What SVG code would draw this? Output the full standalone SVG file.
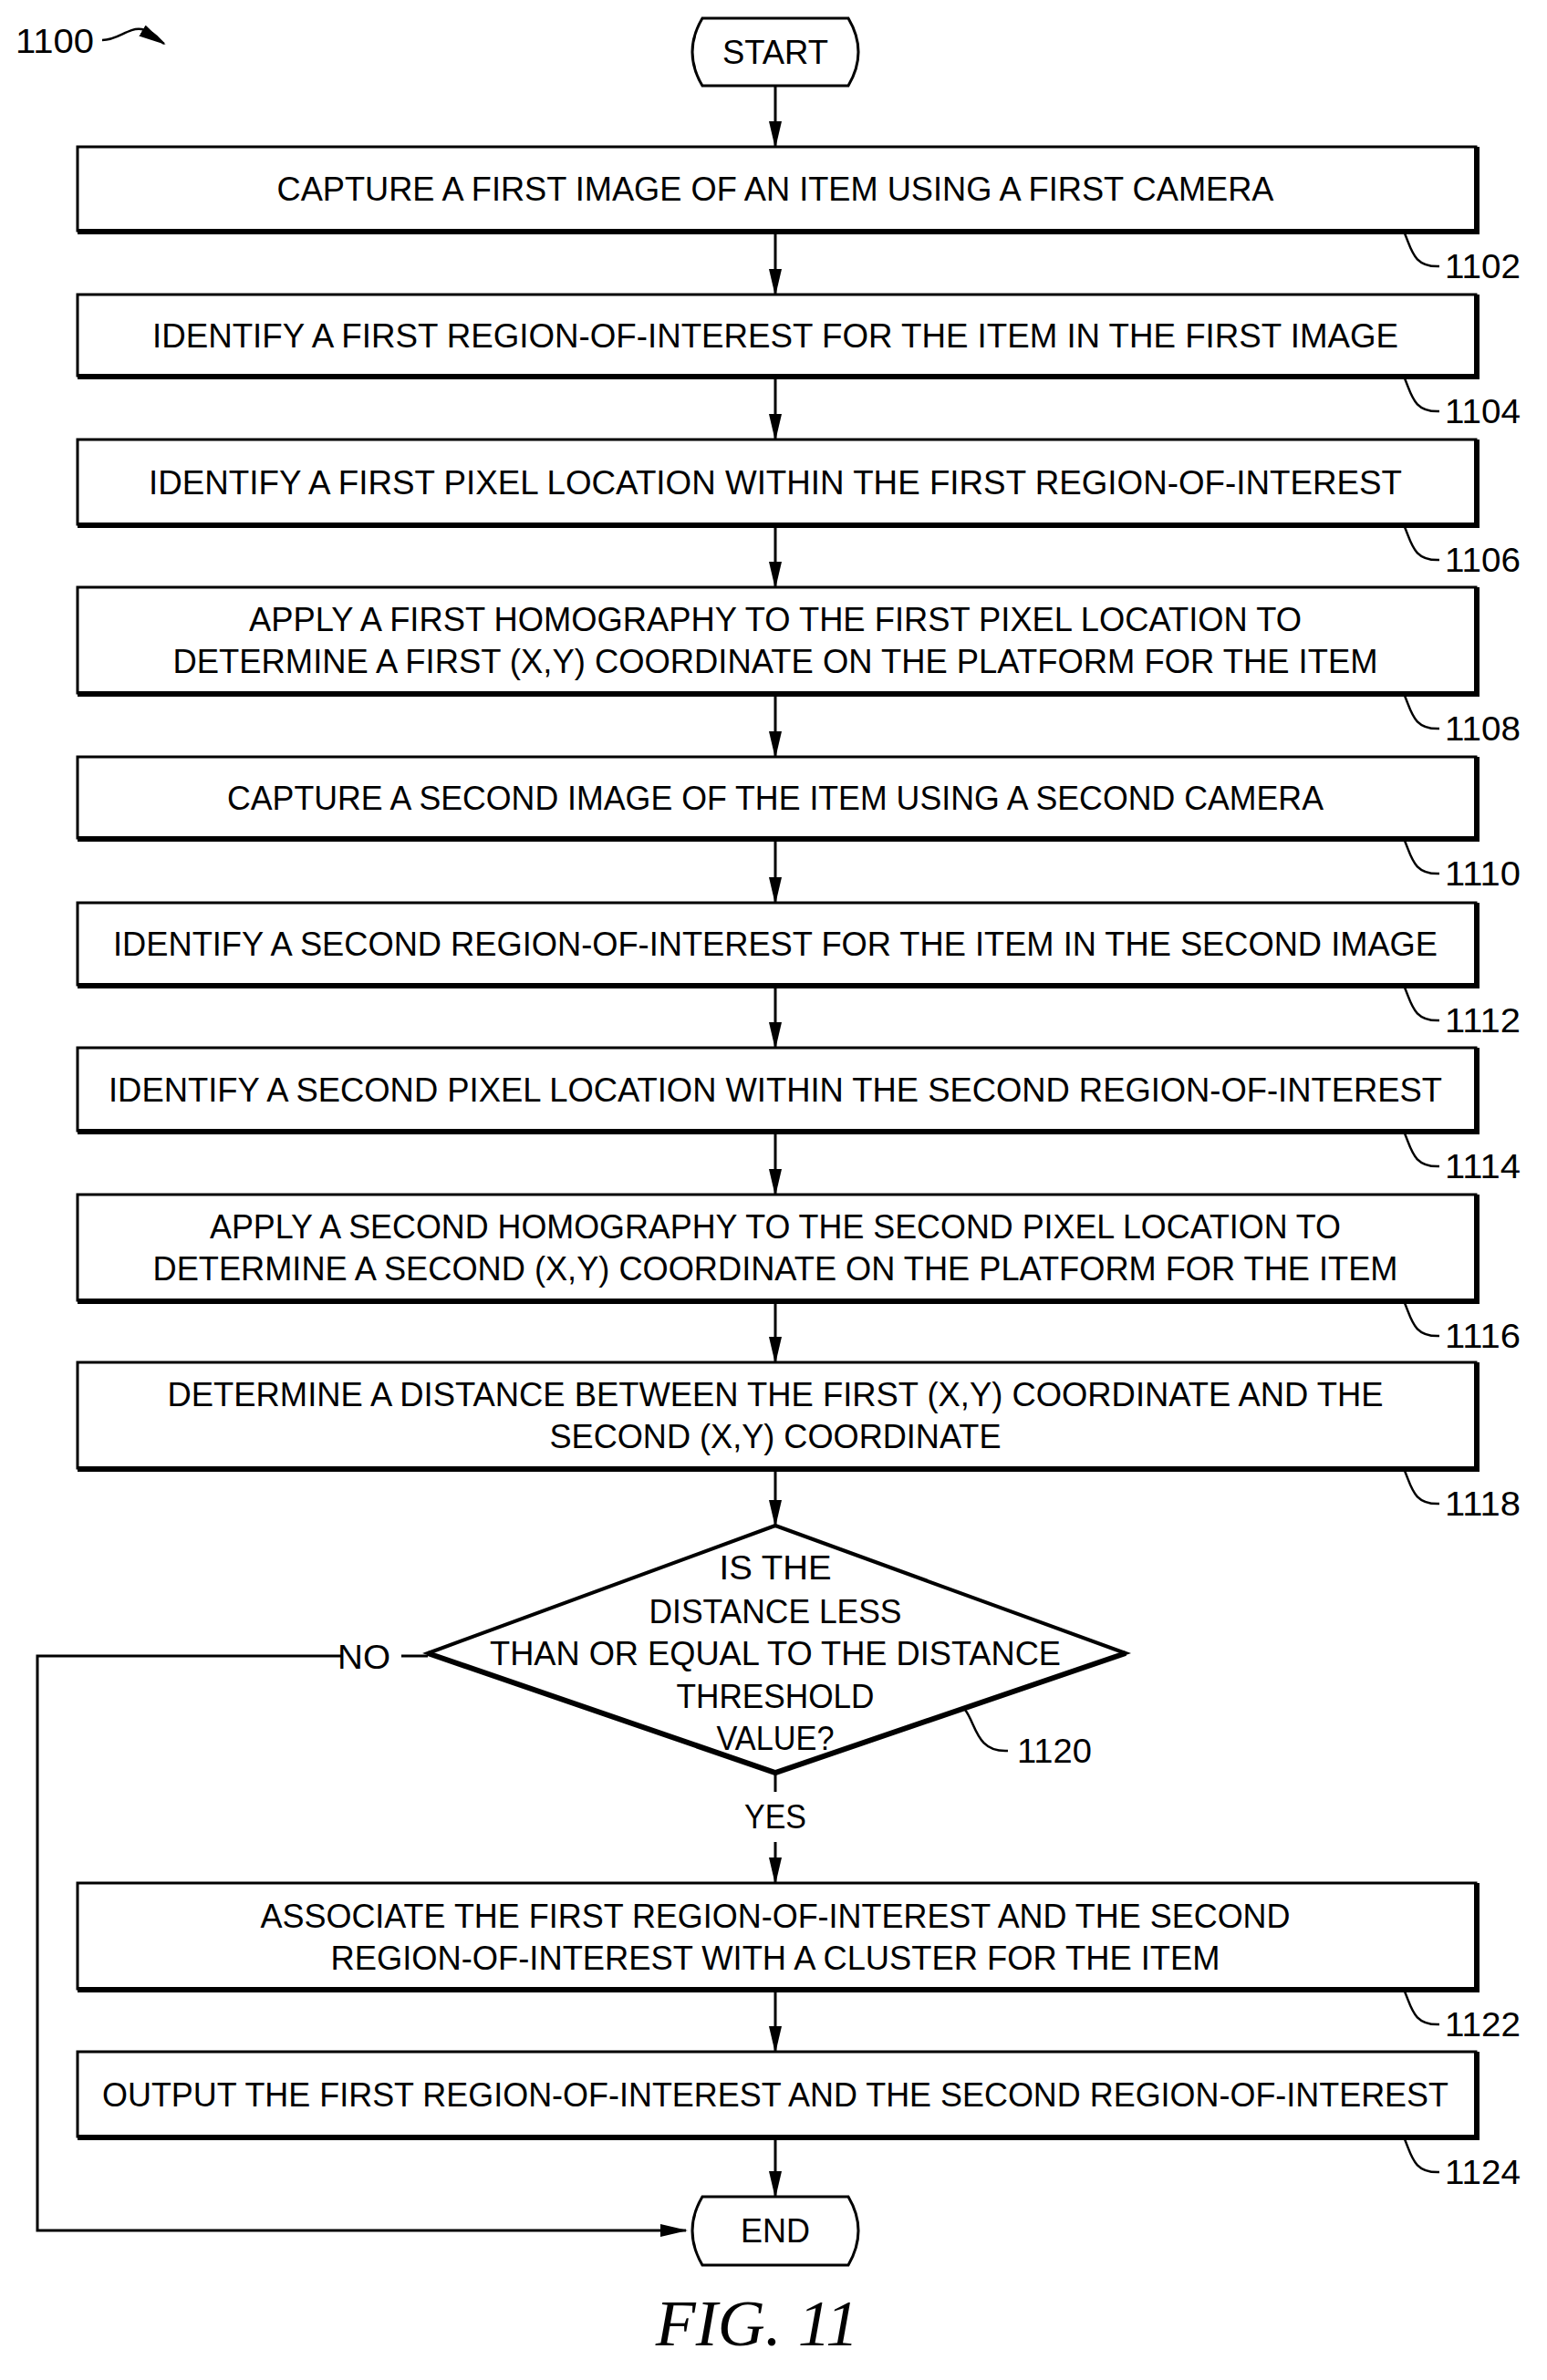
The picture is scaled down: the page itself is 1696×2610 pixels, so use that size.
<svg xmlns="http://www.w3.org/2000/svg" width="1696" height="2610" viewBox="0 0 1696 2610">
<style>
.b{fill:#fff;stroke:#000;stroke-width:3}
.sh{fill:none;stroke:#000;stroke-width:6}
.t{font-family:"Liberation Sans",Arial,sans-serif;font-size:37px;fill:#000;text-anchor:middle}
.r{font-family:"Liberation Sans",Arial,sans-serif;font-size:37px;fill:#000}
.c{fill:none;stroke:#000;stroke-width:3}
.l{fill:none;stroke:#000;stroke-width:2.5}
</style>
<defs>
<marker id="a" markerWidth="14" markerHeight="30" refX="14" refY="7" orient="auto" markerUnits="userSpaceOnUse" viewBox="0 0 14 30">
<path d="M0,0 L14,7 L0,14 Z" transform="translate(0,0)" fill="#000"/>
</marker>
<marker id="v" viewBox="0 0 30 14" refX="28" refY="7" markerWidth="30" markerHeight="14" orient="auto" markerUnits="userSpaceOnUse"><path d="M0,0 L30,7 L0,14 Z" fill="#000"/></marker>
</defs>
<g id="connectors">
<line class="c" x1="850" y1="95" x2="850" y2="161" marker-end="url(#v)"/>
<line class="c" x1="850" y1="256" x2="850" y2="323" marker-end="url(#v)"/>
<line class="c" x1="850" y1="415" x2="850" y2="482" marker-end="url(#v)"/>
<line class="c" x1="850" y1="578" x2="850" y2="644" marker-end="url(#v)"/>
<line class="c" x1="850" y1="763" x2="850" y2="830" marker-end="url(#v)"/>
<line class="c" x1="850" y1="922" x2="850" y2="990" marker-end="url(#v)"/>
<line class="c" x1="850" y1="1083" x2="850" y2="1149" marker-end="url(#v)"/>
<line class="c" x1="850" y1="1243" x2="850" y2="1310" marker-end="url(#v)"/>
<line class="c" x1="850" y1="1429" x2="850" y2="1494" marker-end="url(#v)"/>
<line class="c" x1="850" y1="1613" x2="850" y2="1673" marker-end="url(#v)"/>
<line class="c" x1="850" y1="1946" x2="850" y2="1965"/>
<line class="c" x1="850" y1="2020" x2="850" y2="2065" marker-end="url(#v)"/>
<line class="c" x1="850" y1="2184" x2="850" y2="2250" marker-end="url(#v)"/>
<line class="c" x1="850" y1="2346" x2="850" y2="2409" marker-end="url(#v)"/>
<line class="c" x1="469" y1="1816" x2="440" y2="1816"/>
<polyline class="c" points="374,1816 41,1816 41,2446 752,2446" marker-end="url(#v)"/>
<text class="t" x="399" y="1830" textLength="58" lengthAdjust="spacingAndGlyphs">NO</text>
<text class="t" x="850" y="2005" textLength="68" lengthAdjust="spacingAndGlyphs">YES</text>
</g>
<g id="ref1100">
<text class="r" x="17" y="58" textLength="86" lengthAdjust="spacingAndGlyphs">1100</text>
<path class="l" d="M112,44 C130,44 140,30 155,32 C170,34 175,45 180,48" marker-end="url(#v)"/>
</g>
<g id="start">
<path class="b" d="M770,20 L930,20 Q952,57 930,94 L770,94 Q748,57 770,20 Z"/>
<text class="t" x="850" y="70" textLength="116" lengthAdjust="spacingAndGlyphs">START</text>
</g>
<g id="n1102"><rect class="b" x="85" y="161" width="1533" height="92"/><path class="sh" d="M85,254 H1619 V161"/>
<text class="t" x="850" y="220" textLength="1093" lengthAdjust="spacingAndGlyphs">CAPTURE A FIRST IMAGE OF AN ITEM USING A FIRST CAMERA</text>
<path class="l" d="M1540,256 C1548,275 1550,293 1578,292"/><text class="r" x="1584" y="305" textLength="83" lengthAdjust="spacingAndGlyphs">1102</text></g>
<g id="n1104"><rect class="b" x="85" y="323" width="1533" height="89"/><path class="sh" d="M85,413 H1619 V323"/>
<text class="t" x="850" y="381" textLength="1366" lengthAdjust="spacingAndGlyphs">IDENTIFY A FIRST REGION-OF-INTEREST FOR THE ITEM IN THE FIRST IMAGE</text>
<path class="l" d="M1540,415 C1548,434 1550,452 1578,451"/><text class="r" x="1584" y="464" textLength="83" lengthAdjust="spacingAndGlyphs">1104</text></g>
<g id="n1106"><rect class="b" x="85" y="482" width="1533" height="93"/><path class="sh" d="M85,576 H1619 V482"/>
<text class="t" x="850" y="542" textLength="1374" lengthAdjust="spacingAndGlyphs">IDENTIFY A FIRST PIXEL LOCATION WITHIN THE FIRST REGION-OF-INTEREST</text>
<path class="l" d="M1540,578 C1548,597 1550,615 1578,614"/><text class="r" x="1584" y="627" textLength="83" lengthAdjust="spacingAndGlyphs">1106</text></g>
<g id="n1108"><rect class="b" x="85" y="644" width="1533" height="116"/><path class="sh" d="M85,761 H1619 V644"/>
<text class="t" x="850" y="692" textLength="1154" lengthAdjust="spacingAndGlyphs">APPLY A FIRST HOMOGRAPHY TO THE FIRST PIXEL LOCATION TO</text>
<text class="t" x="850" y="738" textLength="1321" lengthAdjust="spacingAndGlyphs">DETERMINE A FIRST (X,Y) COORDINATE ON THE PLATFORM FOR THE ITEM</text>
<path class="l" d="M1540,763 C1548,782 1550,800 1578,799"/><text class="r" x="1584" y="812" textLength="83" lengthAdjust="spacingAndGlyphs">1108</text></g>
<g id="n1110"><rect class="b" x="85" y="830" width="1533" height="89"/><path class="sh" d="M85,920 H1619 V830"/>
<text class="t" x="850" y="888" textLength="1202" lengthAdjust="spacingAndGlyphs">CAPTURE A SECOND IMAGE OF THE ITEM USING A SECOND CAMERA</text>
<path class="l" d="M1540,922 C1548,941 1550,959 1578,958"/><text class="r" x="1584" y="971" textLength="83" lengthAdjust="spacingAndGlyphs">1110</text></g>
<g id="n1112"><rect class="b" x="85" y="990" width="1533" height="90"/><path class="sh" d="M85,1081 H1619 V990"/>
<text class="t" x="850" y="1048" textLength="1452" lengthAdjust="spacingAndGlyphs">IDENTIFY A SECOND REGION-OF-INTEREST FOR THE ITEM IN THE SECOND IMAGE</text>
<path class="l" d="M1540,1083 C1548,1102 1550,1120 1578,1119"/><text class="r" x="1584" y="1132" textLength="83" lengthAdjust="spacingAndGlyphs">1112</text></g>
<g id="n1114"><rect class="b" x="85" y="1149" width="1533" height="91"/><path class="sh" d="M85,1241 H1619 V1149"/>
<text class="t" x="850" y="1208" textLength="1462" lengthAdjust="spacingAndGlyphs">IDENTIFY A SECOND PIXEL LOCATION WITHIN THE SECOND REGION-OF-INTEREST</text>
<path class="l" d="M1540,1243 C1548,1262 1550,1280 1578,1279"/><text class="r" x="1584" y="1292" textLength="83" lengthAdjust="spacingAndGlyphs">1114</text></g>
<g id="n1116"><rect class="b" x="85" y="1310" width="1533" height="116"/><path class="sh" d="M85,1427 H1619 V1310"/>
<text class="t" x="850" y="1358" textLength="1240" lengthAdjust="spacingAndGlyphs">APPLY A SECOND HOMOGRAPHY TO THE SECOND PIXEL LOCATION TO</text>
<text class="t" x="850" y="1404" textLength="1365" lengthAdjust="spacingAndGlyphs">DETERMINE A SECOND (X,Y) COORDINATE ON THE PLATFORM FOR THE ITEM</text>
<path class="l" d="M1540,1429 C1548,1448 1550,1466 1578,1465"/><text class="r" x="1584" y="1478" textLength="83" lengthAdjust="spacingAndGlyphs">1116</text></g>
<g id="n1118"><rect class="b" x="85" y="1494" width="1533" height="116"/><path class="sh" d="M85,1611 H1619 V1494"/>
<text class="t" x="850" y="1542" textLength="1333" lengthAdjust="spacingAndGlyphs">DETERMINE A DISTANCE BETWEEN THE FIRST (X,Y) COORDINATE AND THE</text>
<text class="t" x="850" y="1588" textLength="495" lengthAdjust="spacingAndGlyphs">SECOND (X,Y) COORDINATE</text>
<path class="l" d="M1540,1613 C1548,1632 1550,1650 1578,1649"/><text class="r" x="1584" y="1662" textLength="83" lengthAdjust="spacingAndGlyphs">1118</text></g>
<g id="n1120">
<path d="M850,1673 L1234,1813 L850,1944 L469,1813 Z" fill="#fff" stroke="#000" stroke-width="4" stroke-linejoin="miter"/>
<path d="M1234,1813 L850,1944 L469,1813" fill="none" stroke="#000" stroke-width="6"/>
<text class="t" x="850" y="1732" textLength="123" lengthAdjust="spacingAndGlyphs">IS THE</text>
<text class="t" x="850" y="1780" textLength="277" lengthAdjust="spacingAndGlyphs">DISTANCE LESS</text>
<text class="t" x="850" y="1826" textLength="626" lengthAdjust="spacingAndGlyphs">THAN OR EQUAL TO THE DISTANCE</text>
<text class="t" x="850" y="1873" textLength="217" lengthAdjust="spacingAndGlyphs">THRESHOLD</text>
<text class="t" x="850" y="1919" textLength="129" lengthAdjust="spacingAndGlyphs">VALUE?</text>
<path class="l" d="M1058,1875 C1070,1890 1070,1922 1105,1920"/><text class="r" x="1115" y="1933" textLength="82" lengthAdjust="spacingAndGlyphs">1120</text>
</g>
<g id="n1122"><rect class="b" x="85" y="2065" width="1533" height="116"/><path class="sh" d="M85,2182 H1619 V2065"/>
<text class="t" x="850" y="2114" textLength="1129" lengthAdjust="spacingAndGlyphs">ASSOCIATE THE FIRST REGION-OF-INTEREST AND THE SECOND</text>
<text class="t" x="850" y="2160" textLength="975" lengthAdjust="spacingAndGlyphs">REGION-OF-INTEREST WITH A CLUSTER FOR THE ITEM</text>
<path class="l" d="M1540,2184 C1548,2203 1550,2221 1578,2220"/><text class="r" x="1584" y="2233" textLength="83" lengthAdjust="spacingAndGlyphs">1122</text></g>
<g id="n1124"><rect class="b" x="85" y="2250" width="1533" height="93"/><path class="sh" d="M85,2344 H1619 V2250"/>
<text class="t" x="850" y="2310" textLength="1476" lengthAdjust="spacingAndGlyphs">OUTPUT THE FIRST REGION-OF-INTEREST AND THE SECOND REGION-OF-INTEREST</text>
<path class="l" d="M1540,2346 C1548,2365 1550,2383 1578,2382"/><text class="r" x="1584" y="2395" textLength="83" lengthAdjust="spacingAndGlyphs">1124</text></g>
<g id="end">
<path class="b" d="M770,2409 L930,2409 Q952,2446 930,2484 L770,2484 Q748,2446 770,2409 Z"/>
<text class="t" x="850" y="2459" textLength="76" lengthAdjust="spacingAndGlyphs">END</text>
</g>
<text x="830" y="2572" font-family="Liberation Serif,Times New Roman,serif" font-style="italic" font-size="72" text-anchor="middle">FIG. 11</text>
</svg>
